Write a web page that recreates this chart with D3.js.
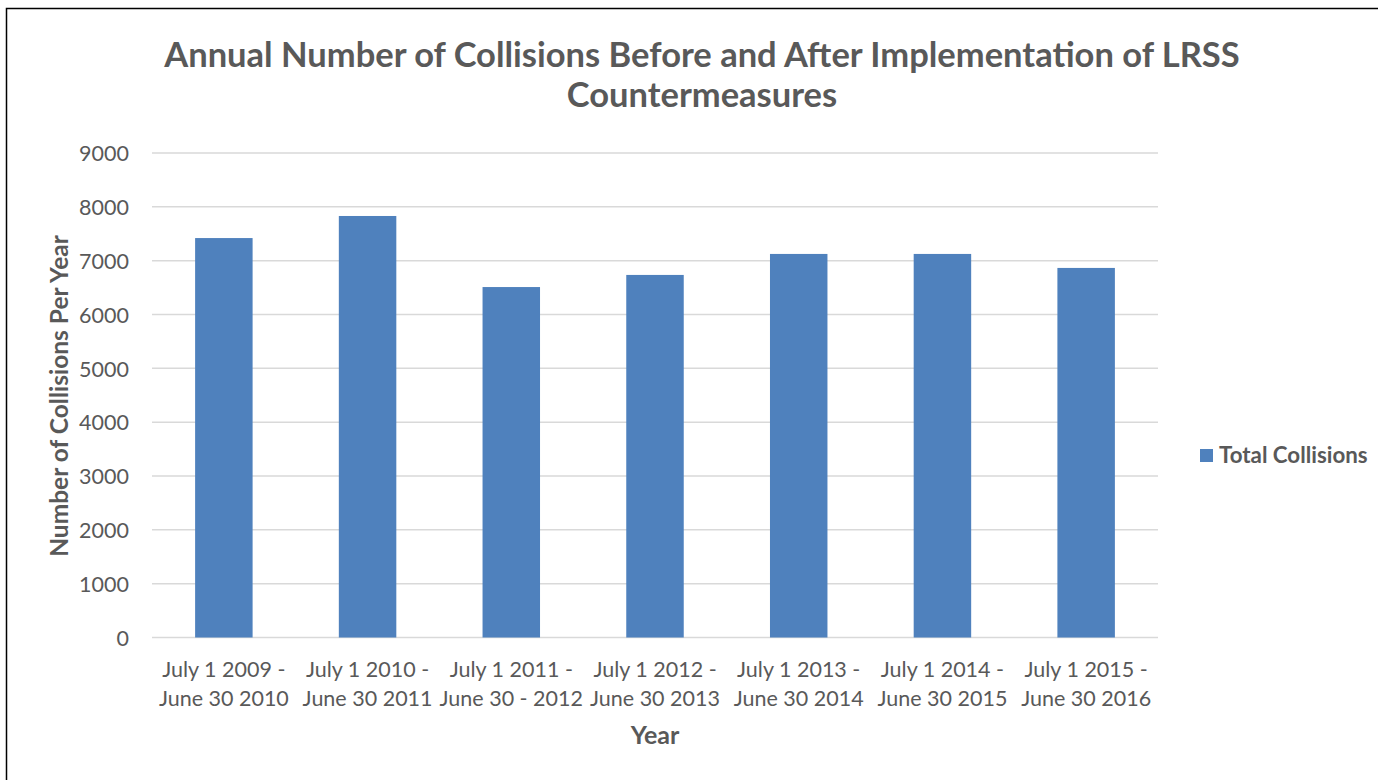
<!DOCTYPE html>
<html>
<head>
<meta charset="utf-8">
<script src="https://cdn.jsdelivr.net/npm/d3@7"></script>
<style>
  html, body { margin: 0; padding: 0; background: #fff; }
  svg { display: block; }
  text { font-family: Lato, "Open Sans", sans-serif; fill: #595959; }
</style>
</head>
<body>
<svg id="chart" width="1378" height="780"></svg>
<script>
const categories = [
  ["July 1 2009 -", "June 30 2010"],
  ["July 1 2010 -", "June 30 2011"],
  ["July 1 2011 -", "June 30 - 2012"],
  ["July 1 2012 -", "June 30 2013"],
  ["July 1 2013 -", "June 30 2014"],
  ["July 1 2014 -", "June 30 2015"],
  ["July 1 2015 -", "June 30 2016"]
];
const totalCollisions = [7420, 7830, 6510, 6735, 7125, 7125, 6865];
const yTicks = [0, 1000, 2000, 3000, 4000, 5000, 6000, 7000, 8000, 9000];
const titleLines = ["Annual Number of Collisions Before and After Implementation of LRSS", "Countermeasures"];
const seriesName = "Total Collisions";

const svg = d3.select("#chart");
const margin = { left: 152, right: 1158, top: 153, bottom: 637.5 };

// border
svg.append("rect").attr("x", 6.5).attr("y", 8.5).attr("width", 1400).attr("height", 800)
  .attr("fill", "none").attr("stroke", "#000").attr("stroke-width", 1.5);

const x = d3.scaleBand().domain(d3.range(categories.length))
  .range([margin.left, margin.right]).paddingInner(0.6).paddingOuter(0.3);
const y = d3.scaleLinear().domain([0, 9000]).range([margin.bottom, margin.top]);

// gridlines
svg.append("g").selectAll("line").data(yTicks).join("line")
  .attr("x1", margin.left).attr("x2", margin.right)
  .attr("y1", d => y(d)).attr("y2", d => y(d))
  .attr("stroke", "#d9d9d9").attr("stroke-width", 1.5);

// y axis labels
const yAxis = d3.axisLeft(y).tickValues(yTicks).tickFormat(d3.format("d")).tickSize(0).tickPadding(0);
const yg = svg.append("g").attr("transform", `translate(129,0)`).call(yAxis);
yg.select(".domain").remove();
yg.selectAll("text").attr("font-size", 21.5).attr("fill", "#595959")
  .style("font-family", "Lato, 'Open Sans', sans-serif").attr("dy", "0.36em");

// bars
svg.append("g").selectAll("rect").data(totalCollisions).join("rect")
  .attr("x", (d, i) => x(i)).attr("width", x.bandwidth())
  .attr("y", d => y(d)).attr("height", d => y(0) - y(d))
  .attr("fill", "#4f81bd");

// x labels
const xg = svg.append("g");
categories.forEach((c, i) => {
  const cx = x(i) + x.bandwidth() / 2;
  const t = xg.append("text").attr("text-anchor", "middle").attr("font-size", 21.5);
  t.append("tspan").attr("x", cx).attr("y", 677).text(c[0]);
  t.append("tspan").attr("x", cx).attr("y", 706).text(c[1]);
});

// title
const title = svg.append("text").attr("text-anchor", "middle")
  .attr("font-size", 34.5).attr("font-weight", "bold");
title.append("tspan").attr("x", 702).attr("y", 67).text(titleLines[0]);
title.append("tspan").attr("x", 702).attr("y", 107).text(titleLines[1]);

// axis titles
svg.append("text").attr("x", 655).attr("y", 744).attr("text-anchor", "middle")
  .attr("font-size", 25).attr("font-weight", "bold").text("Year");
svg.append("text").attr("transform", "translate(68,396) rotate(-90)")
  .attr("text-anchor", "middle").attr("font-size", 24.5).attr("font-weight", "bold")
  .text("Number of Collisions Per Year");

// legend
svg.append("rect").attr("x", 1200).attr("y", 449).attr("width", 13).attr("height", 13).attr("fill", "#4f81bd");
svg.append("text").attr("x", 1219).attr("y", 463).attr("font-size", 22.3).attr("font-weight", "bold").text(seriesName);
</script>
</body>
</html>
